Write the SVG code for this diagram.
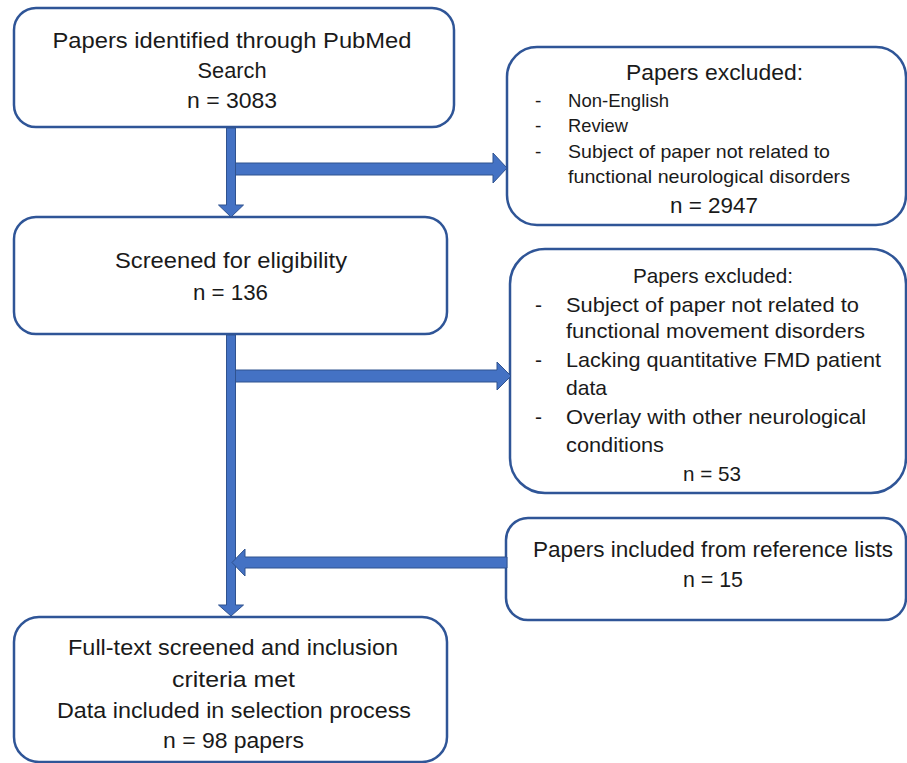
<svg xmlns="http://www.w3.org/2000/svg" width="907" height="763" viewBox="0 0 907 763">
<style>
.box{fill:#fff;stroke:#2F5597;stroke-width:2.5}
.t{font-family:"Liberation Sans",Arial,sans-serif;fill:#1a1a1a}
.c{text-anchor:middle}
.f22{font-size:22px}
.f21{font-size:21px}
.f18{font-size:19px}
.arr{fill:#4472C4;stroke:#2F528F;stroke-width:1;stroke-linejoin:miter}
</style>
<rect width="907" height="763" fill="#fff"/>
<g id="node-identified">
<rect class="box" x="14" y="8" width="440" height="119" rx="22"/>
<text class="t c f22" x="232" y="48" textLength="359" lengthAdjust="spacingAndGlyphs">Papers identified through PubMed</text>
<text class="t c f22" x="232" y="78" textLength="69" lengthAdjust="spacingAndGlyphs">Search</text>
<text class="t c f22" x="232" y="108" textLength="90" lengthAdjust="spacingAndGlyphs">n = 3083</text>
</g>
<g id="node-excluded1">
<rect class="box" x="507" y="47" width="399" height="178" rx="30"/>
<text class="t c f22" x="714.5" y="80" textLength="177" lengthAdjust="spacingAndGlyphs">Papers excluded:</text>
<text class="t f18" x="535" y="107">-</text>
<text class="t f18" x="568" y="107" textLength="101" lengthAdjust="spacingAndGlyphs">Non-English</text>
<text class="t f18" x="535" y="132">-</text>
<text class="t f18" x="568" y="132" textLength="60" lengthAdjust="spacingAndGlyphs">Review</text>
<text class="t f18" x="535" y="158">-</text>
<text class="t f18" x="568" y="158" textLength="262" lengthAdjust="spacingAndGlyphs">Subject of paper not related to</text>
<text class="t f18" x="568" y="183" textLength="282" lengthAdjust="spacingAndGlyphs">functional neurological disorders</text>
<text class="t c f22" x="714" y="213" textLength="88" lengthAdjust="spacingAndGlyphs">n = 2947</text>
</g>
<g id="node-screened">
<rect class="box" x="14" y="217" width="433" height="117" rx="22"/>
<text class="t c f22" x="231" y="268" textLength="232" lengthAdjust="spacingAndGlyphs">Screened for eligibility</text>
<text class="t c f22" x="230.5" y="300" textLength="75" lengthAdjust="spacingAndGlyphs">n = 136</text>
</g>
<g id="node-excluded2">
<rect class="box" x="510" y="249" width="396" height="244" rx="35"/>
<text class="t c f21" x="713" y="283" textLength="160" lengthAdjust="spacingAndGlyphs">Papers excluded:</text>
<text class="t f21" x="535" y="312">-</text>
<text class="t f21" x="566" y="312" textLength="293" lengthAdjust="spacingAndGlyphs">Subject of paper not related to</text>
<text class="t f21" x="566" y="338" textLength="299" lengthAdjust="spacingAndGlyphs">functional movement disorders</text>
<text class="t f21" x="535" y="367">-</text>
<text class="t f21" x="566" y="367" textLength="315" lengthAdjust="spacingAndGlyphs">Lacking quantitative FMD patient</text>
<text class="t f21" x="566" y="395" textLength="41" lengthAdjust="spacingAndGlyphs">data</text>
<text class="t f21" x="535" y="424">-</text>
<text class="t f21" x="566" y="424" textLength="300" lengthAdjust="spacingAndGlyphs">Overlay with other neurological</text>
<text class="t f21" x="566" y="452" textLength="98" lengthAdjust="spacingAndGlyphs">conditions</text>
<text class="t c f21" x="712" y="481" textLength="58" lengthAdjust="spacingAndGlyphs">n = 53</text>
</g>
<g id="node-references">
<rect class="box" x="506" y="518" width="400" height="102" rx="22"/>
<text class="t c f22" x="713" y="557" textLength="360" lengthAdjust="spacingAndGlyphs">Papers included from reference lists</text>
<text class="t c f22" x="713" y="587" textLength="60" lengthAdjust="spacingAndGlyphs">n = 15</text>
</g>
<g id="node-included">
<rect class="box" x="14" y="617" width="433" height="145" rx="25"/>
<text class="t c f22" x="233" y="655" textLength="330" lengthAdjust="spacingAndGlyphs">Full-text screened and inclusion</text>
<text class="t c f22" x="233.5" y="687" textLength="123" lengthAdjust="spacingAndGlyphs">criteria met</text>
<text class="t c f22" x="234" y="718" textLength="354" lengthAdjust="spacingAndGlyphs">Data included in selection process</text>
<text class="t c f22" x="233.5" y="748" textLength="141" lengthAdjust="spacingAndGlyphs">n = 98 papers</text>
</g>
<g id="connectors">
<polygon class="arr" points="226.5,128 235.5,128 235.5,205 243.5,205 231,217 218.5,205 226.5,205"/>
<polygon class="arr" points="235.5,163 493,163 493,153 507,168 493,183 493,175 235.5,175"/>
<polygon class="arr" points="226.5,335 235.5,335 235.5,605 243.5,605 231,616 218.5,605 226.5,605"/>
<polygon class="arr" points="235.5,370 497,370 497,362 511,376 497,390 497,382 235.5,382"/>
<polygon class="arr" points="507,557 507,568 245,568 245,576 232,562.5 245,549 245,557"/>
</g>
</svg>
